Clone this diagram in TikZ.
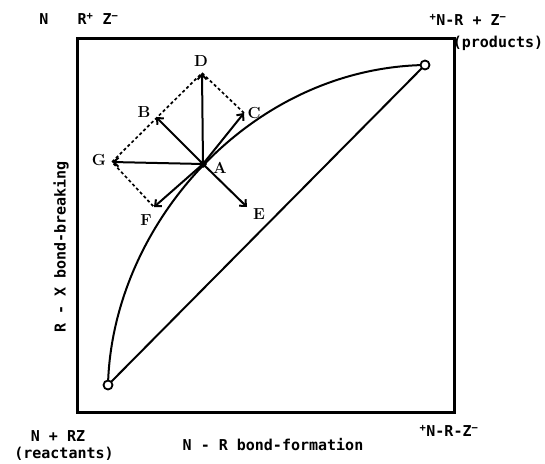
\documentclass[tikz,border=0pt]{standalone}
\usepackage{fontspec}
\newfontfamily\typew{DejaVu Sans Mono}
\usetikzlibrary{arrows,arrows.meta}

\begin{document}
\begin{tikzpicture}[x=1pt,y=-1pt,>={Straight Barb[length=5pt,width=9pt]},
    lbl/.style={font=\typew\bfseries\fontsize{15}{17}\selectfont, inner sep=0pt},
    ltr/.style={font=\bfseries\fontsize{16}{18}\selectfont, inner sep=1pt}]
                \useasboundingbox (0,0) rectangle (545,463);
                \draw [line width=3pt] (77,38) rectangle (454,412);
                % reaction paths
                \coordinate (R) at (108,385);
                \coordinate (P) at (425,65);
                \draw [line width=2pt] (R) .. controls (112,225) and (250,68) .. (P);
                \draw [line width=2pt] (R) -- (P);
                \draw [line width=1.8pt, fill=white] (R) circle (4.5pt);
                \draw [line width=1.8pt, fill=white] (P) circle (4.5pt);
                % displacement vectors
                \coordinate (A) at (203,164);
                \coordinate (D) at (202,73);
                \coordinate (B) at (156,117);
                \coordinate (C) at (244,113);
                \coordinate (G) at (112,162);
                \coordinate (F) at (154,207);
                \coordinate (E) at (247,207);
                \draw [dash pattern=on 3pt off 2.5pt, line width=1.7pt] (C) -- (D) -- (G) -- (F);
                \foreach \t in {D,B,C,G,F,E}
                    \draw [->, line width=2pt] (A) -- (\t);
                \draw [fill] (A) circle (3.5pt);
                \node[ltr] (lA) at (220,168) {A};
                \node[ltr] (lB) at (144,112) {B};
                \node[ltr] (lC) at (254,113) {C};
                \node[ltr] (lD) at (201,61) {D};
                \node[ltr] (lE) at (259,214) {E};
                \node[ltr] (lF) at (146,220) {F};
                \node[ltr] (lG) at (99,160) {G};
                % corner and axis labels
                \node[lbl] (n) at (44,19) {N};
                \node[lbl] (rz) at (98,19) {R\textsuperscript{+} Z\textsuperscript{−}};
                \node[lbl] (prod) at (468,20) {\textsuperscript{+}N-R + Z\textsuperscript{−}};
                \node[lbl] (prodb) at (498,43) {(products)};
                \node[lbl] (reac) at (58,436) {N + RZ};
                \node[lbl] (reacb) at (64,454) {(reactants)};
                \node[lbl] (trans) at (449,431) {\textsuperscript{+}N-R-Z\textsuperscript{−}};
                \node[lbl] (xlab) at (273,444) {N - R bond-formation};
                \node[lbl, rotate=90] (ylab) at (61,247) {R - X bond-breaking};
\end{tikzpicture}
\end{document}
